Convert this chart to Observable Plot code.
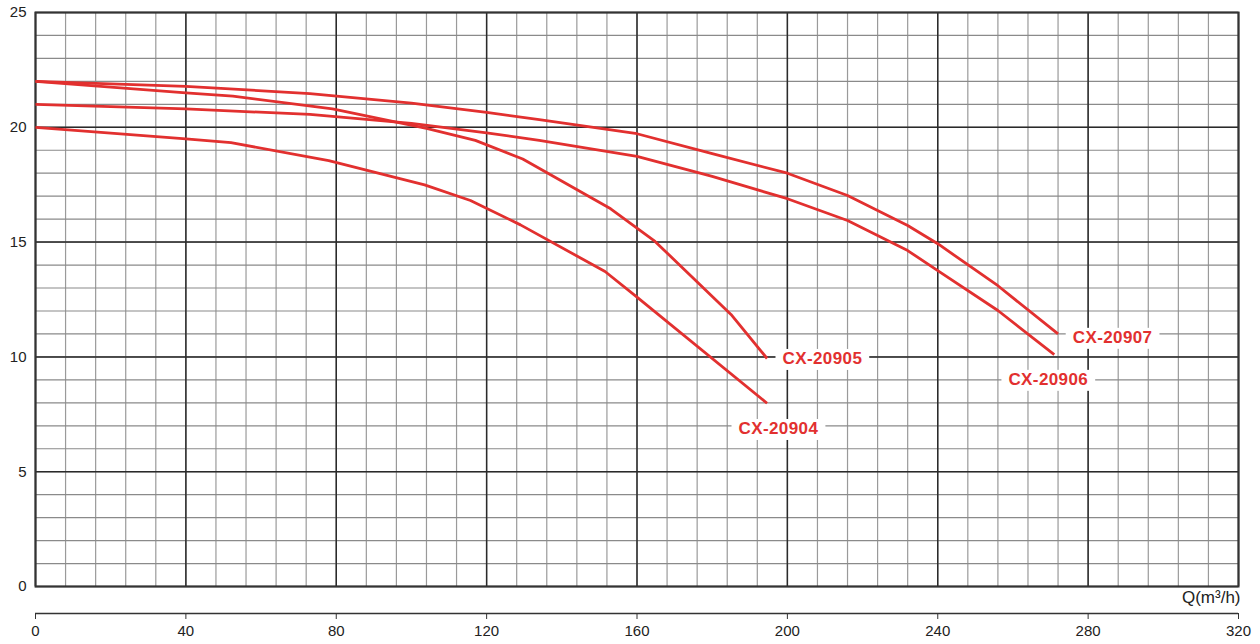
<!DOCTYPE html>
<html><head><meta charset="utf-8">
<script src="https://cdn.jsdelivr.net/npm/d3@7"></script>
<script src="https://cdn.jsdelivr.net/npm/@observablehq/plot@0.6"></script>
<style>
body{margin:0;background:#fff;}
#chart{width:1260px;height:644px;overflow:hidden;}
</style>
</head><body><div id="chart"></div>
<script>
// ---- data (flow Q in m³/h, head H in m) ----
const models = ["CX-20904", "CX-20905", "CX-20906", "CX-20907"];

const q20904 = [0, 40, 52, 78, 103.5, 115.7, 129, 151.5, 160, 194.6];
const h20904 = [20, 19.5, 19.33, 18.55, 17.49, 16.81, 15.75, 13.72, 12.6, 7.98];

const q20905 = [0, 40, 52.5, 79, 104, 117, 129.6, 153, 164.8, 185, 194.6];
const h20905 = [22, 21.5, 21.36, 20.8, 19.95, 19.43, 18.62, 16.45, 15.03, 11.85, 9.93];

const q20906 = [0, 40, 73, 100, 120, 134, 160, 180, 200, 216, 232, 240, 256, 271];
const h20906 = [21, 20.8, 20.56, 20.17, 19.76, 19.43, 18.73, 17.86, 16.89, 15.94, 14.63, 13.76, 12.02, 10.1];

const q20907 = [0, 40, 73, 100, 120, 134, 160, 180, 200, 216, 232, 240, 256, 272];
const h20907 = [22, 21.78, 21.47, 21.05, 20.65, 20.33, 19.72, 18.85, 18.0, 17.03, 15.72, 14.93, 13.1, 11.0];

const labelQ = [187, 198.7, 258.8, 275.9];
const labelH = [6.88, 9.93, 9.02, 10.85];

const xTicks = [0, 40, 80, 120, 160, 200, 240, 280, 320];
const yTicks = [0, 5, 10, 15, 20, 25];
const xMinor = d3.range(0, 321, 8);
const yMinor = d3.range(0, 26, 1);
const xUnit = "Q(m³/h)";

// ---- build table ----
const seriesQ = [q20904, q20905, q20906, q20907];
const seriesH = [h20904, h20905, h20906, h20907];
const curves = models.flatMap((m, s) => seriesQ[s].map((q, i) => ({model: m, q, h: seriesH[s][i]})));
const labels = models.map((m, i) => ({model: m, q: labelQ[i], h: labelH[i]}));

const RED = "#e2302f";

const plot = Plot.plot({
  width: 1260,
  height: 644,
  marginLeft: 35,
  marginRight: 22,
  marginTop: 12,
  marginBottom: 58,
  style: {fontFamily: "'Liberation Sans', Arial, sans-serif", fontSize: "15px", color: "#222", background: "#fff"},
  x: {domain: [0, 320]},
  y: {domain: [0, 25]},
  marks: [
    Plot.ruleX(xMinor, {stroke: "#9a9a9a", strokeWidth: 1.2}),
    Plot.ruleY(yMinor, {stroke: "#8a8a8a", strokeWidth: 1.2}),
    Plot.ruleX(xTicks, {stroke: "#2a2a2a", strokeWidth: 1.5}),
    Plot.ruleY(yTicks, {stroke: "#2a2a2a", strokeWidth: 1.5}),
    Plot.frame({stroke: "#333", strokeWidth: 2}),
    Plot.axisY({ticks: yTicks, tickSize: 0, tickPadding: 9, label: null, fontSize: 15}),
    Plot.axisX({ticks: xTicks, tickSize: 6, tickPadding: 6, dy: 27, label: null, fontSize: 15, stroke: "#333"}),
    Plot.ruleY([0], {dy: 27, stroke: "#333", strokeWidth: 1.5}),
    Plot.text([xUnit], {frameAnchor: "bottom-right", textAnchor: "end", dy: 16, dx: 2, fontSize: 17, fill: "#222"}),
    Plot.line(curves, {x: "q", y: "h", z: "model", stroke: RED, strokeWidth: 2.8, strokeLinejoin: "round", strokeLinecap: "butt"}),
    Plot.text(labels, {x: "q", y: "h", text: "model", textAnchor: "start", fill: RED, fontWeight: "bold", fontSize: 17})
  ]
});

document.getElementById("chart").appendChild(plot);

// white boxes behind the series labels
plot.querySelectorAll("text").forEach((t) => {
  if (!models.includes(t.textContent.trim())) return;
  t.setAttribute("letter-spacing", "0.4");
  const b = t.getBBox();
  const r = document.createElementNS("http://www.w3.org/2000/svg", "rect");
  r.setAttribute("x", b.x - 7);
  r.setAttribute("y", b.y);
  r.setAttribute("width", b.width + 14);
  r.setAttribute("height", b.height + 2);
  r.setAttribute("fill", "#ffffff");
  r.setAttribute("stroke", "none");
  const tr = t.getAttribute("transform");
  if (tr) r.setAttribute("transform", tr);
  t.parentNode.insertBefore(r, t);
});
</script>
</body></html>
